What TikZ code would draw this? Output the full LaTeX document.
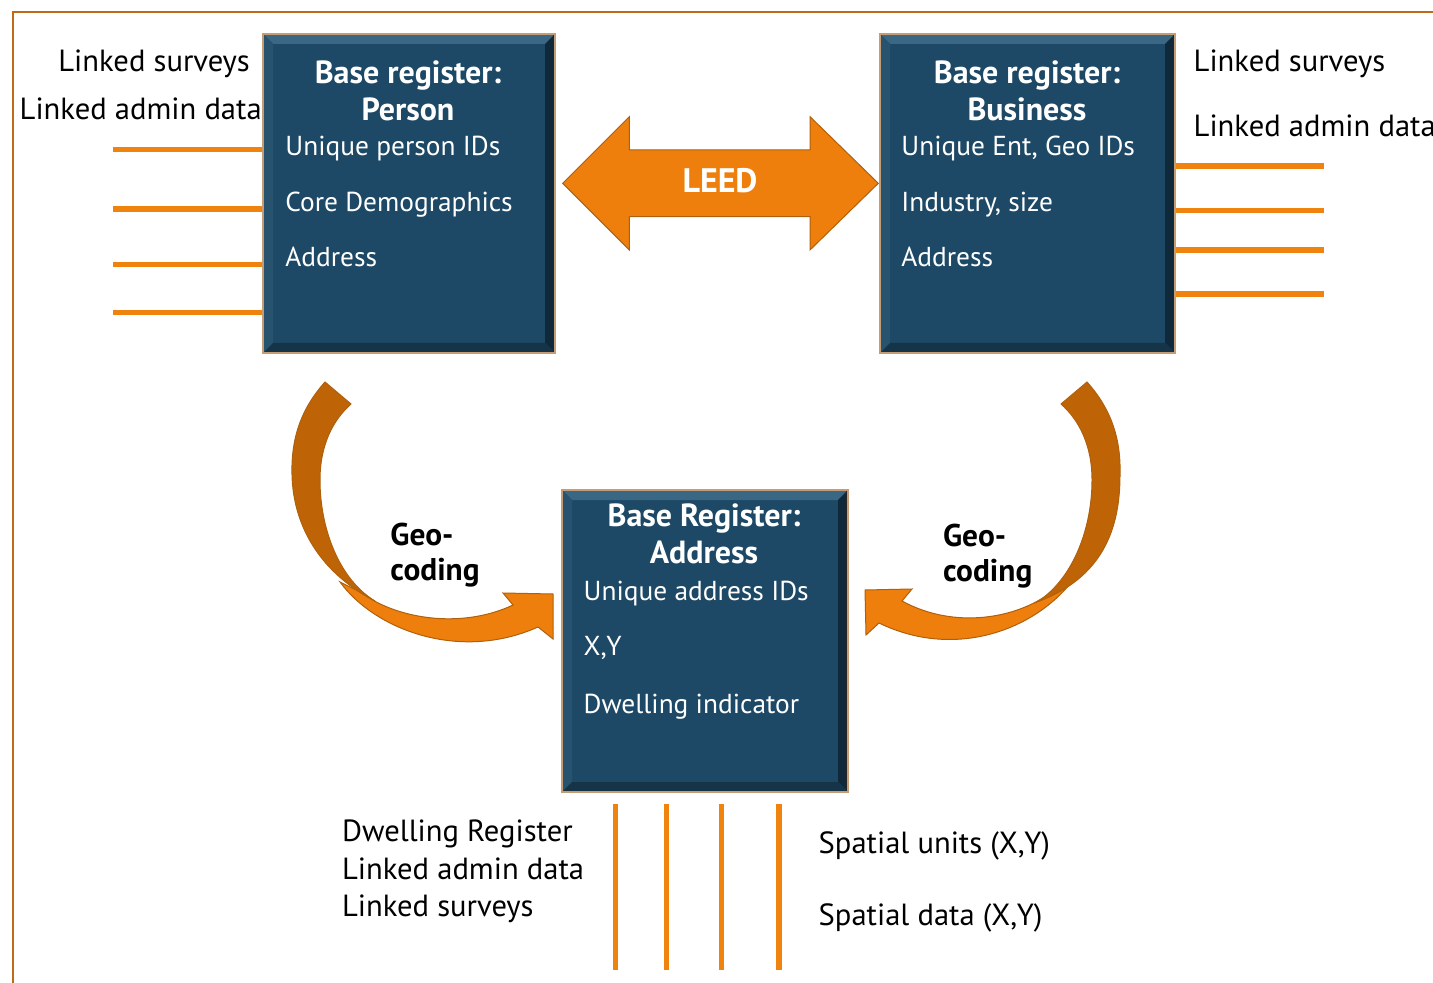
\documentclass[tikz,border=0pt]{standalone}
\usepackage{fontspec}
\setmainfont{PT Sans}

\definecolor{regblue}{HTML}{1D4966}
\definecolor{regtop}{HTML}{3A6784}
\definecolor{regleft}{HTML}{28536F}
\definecolor{regright}{HTML}{10293A}
\definecolor{regbottom}{HTML}{153448}
\definecolor{regrim}{HTML}{C49C76}
\definecolor{feedorange}{HTML}{F0820E}
\definecolor{geolight}{HTML}{EE7F0C}
\definecolor{geodark}{HTML}{BE6407}
\definecolor{geoline}{HTML}{B0600C}
\definecolor{framebrown}{HTML}{BF6A14}

\tikzset{
  regbox/.style={draw=regrim, line width=1pt, fill=regblue, inner sep=0pt,
    path picture={
      \coordinate (bnw) at (path picture bounding box.north west);
      \coordinate (bne) at (path picture bounding box.north east);
      \coordinate (bsw) at (path picture bounding box.south west);
      \coordinate (bse) at (path picture bounding box.south east);
      \fill[regtop] (bnw) -- (bne) -- ([shift={(-5pt,-5pt)}]bne) -- ([shift={(5pt,-5pt)}]bnw) -- cycle;
      \fill[regleft] (bnw) -- (bsw) -- ([shift={(5pt,5pt)}]bsw) -- ([shift={(5pt,-5pt)}]bnw) -- cycle;
      \fill[regright] (bne) -- (bse) -- ([shift={(-5pt,5pt)}]bse) -- ([shift={(-5pt,-5pt)}]bne) -- cycle;
      \fill[regbottom] (bsw) -- (bse) -- ([shift={(-5pt,5pt)}]bse) -- ([shift={(5pt,5pt)}]bsw) -- cycle;
      \fill[black!85] (bne) -- (bse) -- ([xshift=-1.2pt]bse) -- ([xshift=-1.2pt]bne) -- cycle;
    }},
  boxhead/.style={anchor=base, inner sep=0pt, text=white, font=\fontsize{16}{19}\selectfont\bfseries},
  boxitem/.style={anchor=base west, inner sep=0pt, text=white, font=\fontsize{13.7}{19}\selectfont},
  lbl/.style={anchor=base west, inner sep=0pt, font=\fontsize{15.3}{19}\selectfont},
  geolbl/.style={anchor=base west, inner sep=0pt, font=\fontsize{15.7}{19}\selectfont\bfseries},
  feed/.style={feedorange, line width=2.7pt},
  geoarrow/.style={draw=geoline, line width=0.5pt},
}

\begin{document}
\begin{tikzpicture}[x=0.5pt, y=-0.5pt]
    \useasboundingbox (0,0) rectangle (1433,983);
    \draw[framebrown, line width=1.2pt] (1440,12) -- (13,12) -- (13,990);

    % register boxes
    \node[regbox, minimum width=146pt, minimum height=159.5pt] (person) at (409,193.5) {};
    \node[regbox, minimum width=147.5pt, minimum height=159.5pt] (business) at (1027.5,193.5) {};
    \node[regbox, minimum width=143pt, minimum height=151pt] (address) at (705,641) {};

    % linked data feeds
    \coordinate (pf1) at (113,149.3);
    \coordinate (pf2) at (113,209);
    \coordinate (pf3) at (113,264.3);
    \coordinate (pf4) at (113,312.7);
    \draw[feed] (pf1) -- (pf1 -| person.west);
    \draw[feed] (pf2) -- (pf2 -| person.west);
    \draw[feed] (pf3) -- (pf3 -| person.west);
    \draw[feed] (pf4) -- (pf4 -| person.west);

    \coordinate (bf1) at (1324,166);
    \coordinate (bf2) at (1324,210.7);
    \coordinate (bf3) at (1324,250);
    \coordinate (bf4) at (1324,294);
    \draw[feed] (business.east |- bf1) -- (bf1);
    \draw[feed] (business.east |- bf2) -- (bf2);
    \draw[feed] (business.east |- bf3) -- (bf3);
    \draw[feed] (business.east |- bf4) -- (bf4);

    \coordinate (af1) at (615.7,970);
    \coordinate (af2) at (666.7,970);
    \coordinate (af3) at (721.7,970);
    \coordinate (af4) at (779,970);
    \draw[feed] ([yshift=-5.5pt]address.south -| af1) -- (af1);
    \draw[feed] ([yshift=-5.5pt]address.south -| af2) -- (af2);
    \draw[feed] ([yshift=-5.5pt]address.south -| af3) -- (af3);
    \draw[feed] ([yshift=-5.5pt]address.south -| af4) -- (af4);

    % LEED double arrow
    \filldraw[fill=geolight, geoarrow] (562.7,183.3) -- (629.3,116.7) -- (629.3,150) -- (810,150)
        -- (810,116.7) -- (878.3,183.3) -- (810,250) -- (810,216.7) -- (629.3,216.7)
        -- (629.3,250) -- cycle;
    \node[boxhead, font=\fontsize{17}{19}\selectfont\bfseries] (leed) at (720,192.7) {LEED};

    % geo-coding, left
    \filldraw[fill=geolight, geoarrow] (340,582) .. controls (375,630) and (460,662) .. (538,627)
        -- (553,639) -- (553,594) -- (503,593) -- (513,605)
        .. controls (460,630) and (395,618) .. (362,593) -- cycle;
    \filldraw[fill=geodark, geoarrow] (325,382) .. controls (300,410) and (291,440) .. (292,475)
        .. controls (293,520) and (315,570) .. (375,601)
        .. controls (340,580) and (320,530) .. (320,480)
        .. controls (320,445) and (333,420) .. (351,404) -- cycle;

    % geo-coding, right
    \filldraw[fill=geolight, geoarrow] (1073,580) .. controls (1035,630) and (955,660) .. (879,623)
        -- (866,635) -- (865,590) -- (912,589) -- (902,601)
        .. controls (955,630) and (1017,618) .. (1050,593) -- cycle;
    \filldraw[fill=geodark, geoarrow] (1087,382) .. controls (1112,410) and (1121,440) .. (1120,475)
        .. controls (1120,530) and (1102,578) .. (1037,602)
        .. controls (1072,580) and (1092,530) .. (1092,480)
        .. controls (1092,445) and (1079,420) .. (1061,404) -- cycle;

    % box texts
    \node[boxhead] (personhead) at (408,83.3) {Base register:};
    \node[boxhead] (personname) at (408,120.7) {Person};
    \node[boxitem] (personids) at (285,156) {Unique person IDs};
    \node[boxitem] (persondemo) at (285,211.7) {Core Demographics};
    \node[boxitem] (personaddr) at (285,266.7) {Address};

    \node[boxhead] (businesshead) at (1027,83.3) {Base register:};
    \node[boxhead] (businessname) at (1027,120.7) {Business};
    \node[boxitem] (businessids) at (901,156) {Unique Ent, Geo IDs};
    \node[boxitem] (businessind) at (901,211.7) {Industry, size};
    \node[boxitem] (businessaddr) at (901,266.7) {Address};

    \node[boxhead] (addresshead) at (704,526.7) {Base Register:};
    \node[boxhead] (addressname) at (704,563.3) {Address};
    \node[boxitem] (addressids) at (583.3,600) {Unique address IDs};
    \node[boxitem] (addressxy) at (583.3,655.7) {X,Y};
    \node[boxitem] (addressdwell) at (583.3,713.3) {Dwelling indicator};

    % outside labels
    \node[lbl] (survleft) at (58,71.7) {Linked surveys};
    \node[lbl] (adminleft) at (19.3,120) {Linked admin data};
    \node[lbl] (survright) at (1193.3,71.7) {Linked surveys};
    \node[lbl] (adminright) at (1193.3,136.7) {Linked admin data};
    \node[lbl] (dwellreg) at (341.7,841.7) {Dwelling Register};
    \node[lbl] (adminbottom) at (341.7,879.3) {Linked admin data};
    \node[lbl] (survbottom) at (341.7,916.7) {Linked surveys};
    \node[lbl] (spunits) at (818.3,853.3) {Spatial units (X,Y)};
    \node[lbl] (spdata) at (818.3,925) {Spatial data (X,Y)};

    \node[geolbl] (geoleftA) at (390,545) {Geo-};
    \node[geolbl] (geoleftB) at (390,580.7) {coding};
    \node[geolbl] (georightA) at (942.7,546) {Geo-};
    \node[geolbl] (georightB) at (942.7,581.7) {coding};
\end{tikzpicture}
\end{document}
